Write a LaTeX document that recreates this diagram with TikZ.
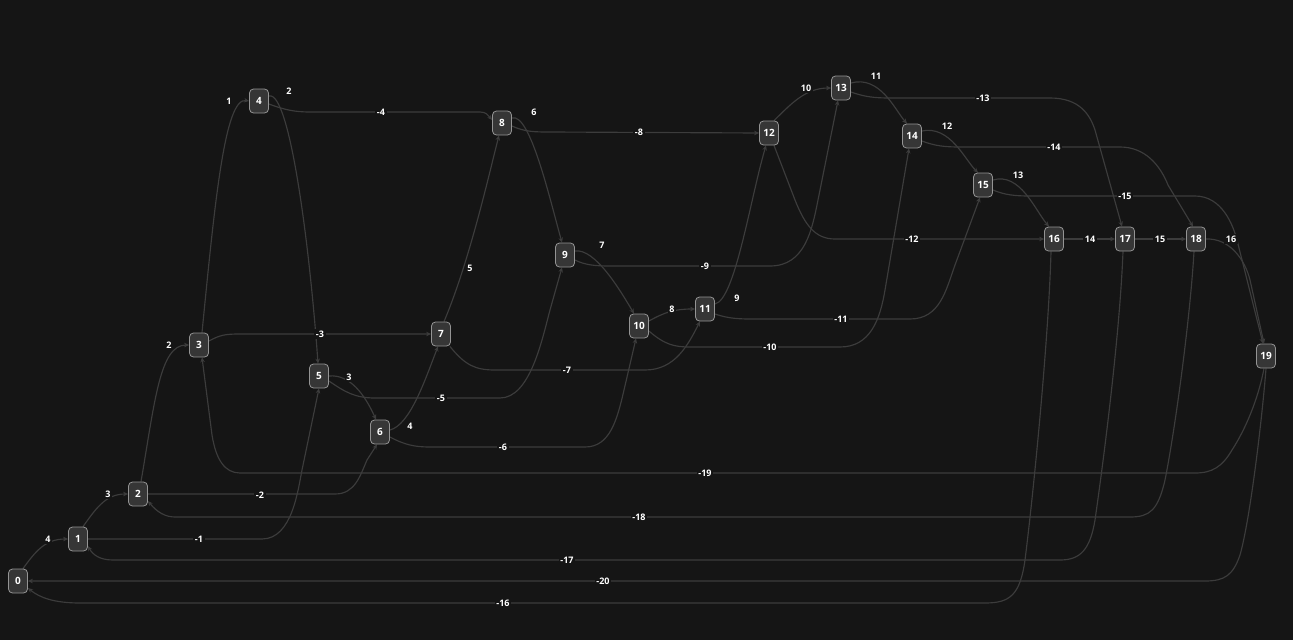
\documentclass[tikz,border=0pt]{standalone}
\usepackage{fontspec}
\setmainfont{Open Sans}
\usetikzlibrary{arrows.meta}
\definecolor{bg}{HTML}{151515}
\definecolor{nodefill}{HTML}{363636}
\definecolor{nodeborder}{HTML}{949494}
\definecolor{edgecol}{HTML}{3C3C3C}
\pgfdeclarelayer{edgelayer}
\pgfsetlayers{edgelayer,main}
\begin{document}
\begin{tikzpicture}[x=1pt,y=-1pt,
  vert/.style={draw=nodeborder, fill=nodefill, rounded corners=4pt, minimum width=19pt, minimum height=24pt, inner sep=2pt, text=white, font=\bfseries\fontsize{10}{10}\selectfont, line width=0.8pt},
  edge/.style={draw=edgecol, line width=1.15pt, -{Stealth[length=5pt,width=4.5pt]}},
  elab/.style={fill=bg, text=white, font=\bfseries\fontsize{9}{9}\selectfont, inner sep=1.5pt}]
\begin{pgfonlayer}{edgelayer}
\fill[bg] (0,0) rectangle (1293,640);
\end{pgfonlayer}
\useasboundingbox (0,0) rectangle (1293,640);

\node[vert] (n0) at (18,581) {0};
\node[vert] (n1) at (78,539) {1};
\node[vert] (n2) at (138,494) {2};
\node[vert] (n3) at (199,345) {3};
\node[vert] (n4) at (259,101) {4};
\node[vert] (n5) at (319,376) {5};
\node[vert] (n6) at (380,432) {6};
\node[vert] (n7) at (441,334) {7};
\node[vert] (n8) at (502,123) {8};
\node[vert] (n9) at (565,255) {9};
\node[vert] (n10) at (639,326) {10};
\node[vert] (n11) at (705,309) {11};
\node[vert] (n12) at (769,133) {12};
\node[vert] (n13) at (841,88) {13};
\node[vert] (n14) at (912,136) {14};
\node[vert] (n15) at (983,185) {15};
\node[vert] (n16) at (1054,239) {16};
\node[vert] (n17) at (1125,239) {17};
\node[vert] (n18) at (1196,239) {18};
\node[vert] (n19) at (1266,356) {19};

\begin{pgfonlayer}{edgelayer}
% forward edges
\draw[edge] ([xshift=5pt]n0.north) .. controls (35,552) and (45,539) .. (n1.west);
\draw[edge] ([xshift=5pt]n1.north) .. controls (95,510) and (105,494) .. (n2.west);
\draw[edge] ([xshift=3pt]n2.north) .. controls (155,400) and (160,345) .. (n3.west);
\draw[edge] ([xshift=3pt]n3.north) .. controls (215,200) and (225,97) .. (n4.west);
\draw[edge] ([yshift=5pt]n4.east) .. controls (290,90) and (310,250) .. ([xshift=-1pt]n5.north);
\draw[edge] (n5.east) .. controls (350,374) and (365,395) .. ([xshift=-4pt]n6.north);
\draw[edge] ([yshift=2pt]n6.east) .. controls (410,425) and (425,380) .. ([xshift=-3pt]n7.south);
\draw[edge] ([xshift=3pt]n7.north) .. controls (470,260) and (490,170) .. ([xshift=-3pt]n8.south);
\draw[edge] ([yshift=5pt]n8.east) .. controls (530,112) and (550,200) .. ([xshift=-3pt]n9.north);
\draw[edge] ([yshift=4pt]n9.east) .. controls (595,248) and (620,290) .. ([xshift=-5pt]n10.north);
\draw[edge] ([yshift=5pt]n10.east) .. controls (665,312) and (675,309) .. (n11.west);
\draw[edge] ([yshift=5pt]n11.east) .. controls (735,300) and (750,200) .. ([xshift=-3pt]n12.south);
\draw[edge] ([xshift=5pt]n12.north) .. controls (790,105) and (805,88) .. (n13.west);
\draw[edge] ([yshift=5pt]n13.east) .. controls (880,75) and (895,110) .. ([xshift=-5pt]n14.north);
\draw[edge] ([yshift=5pt]n14.east) .. controls (950,125) and (965,160) .. ([xshift=-5pt]n15.north);
\draw[edge] ([yshift=5pt]n15.east) .. controls (1020,172) and (1035,210) .. ([xshift=-5pt]n16.north);
\draw[edge] (n16.east) -- (n17.west);
\draw[edge] (n17.east) -- (n18.west);
\draw[edge] (n18.east) .. controls (1230,238) and (1245,260) .. (1250,280) -- ([xshift=-2pt]n19.north);

% backward edges
\draw[edge] (n1.east) -- (262,539) .. controls (292,539) and (298,490) .. (302,470) -- (n5.south);
\draw[edge] (n2.east) -- (335,494) .. controls (355,494) and (360,476) .. (367,460) -- ([xshift=-3pt]n6.south);
\draw[edge] ([yshift=4pt]n3.east) .. controls (220,335) and (225,334) .. (240,334) -- (n7.west);
\draw[edge] ([yshift=-3pt]n4.east) .. controls (285,110) and (295,112) .. (310,112) -- (480,112) .. controls (486,112) and (488,115) .. ([yshift=3pt]n8.west);
\draw[edge] ([yshift=-5pt]n5.east) .. controls (345,392) and (355,398) .. (375,398) -- (500,398) .. controls (530,398) and (542,340) .. (550,310) -- ([xshift=-3pt]n9.south);
\draw[edge] ([yshift=-5pt]n6.east) .. controls (405,445) and (415,447) .. (430,447) -- (585,447) .. controls (610,447) and (617,420) .. (624,390) -- ([xshift=-3pt]n10.south);
\draw[edge] ([xshift=-1pt]n7.south east) .. controls (465,365) and (475,370) .. (495,370) -- (645,370) .. controls (675,370) and (688,345) .. ([xshift=-5pt]n11.south);
\draw[edge] ([yshift=-3pt]n8.east) .. controls (525,132) and (535,132) .. (550,132) -- (n12.west);
\draw[edge] ([yshift=-5pt]n9.east) .. controls (585,265) and (595,266) .. (610,266) -- (770,266) .. controls (805,266) and (812,230) .. (818,200) -- ([xshift=-3pt]n13.south);
\draw[edge] ([yshift=-5pt]n10.east) .. controls (665,345) and (675,347) .. (690,347) -- (840,347) .. controls (870,347) and (880,320) .. (885,290) -- ([xshift=-3pt]n14.south);
\draw[edge] ([yshift=-5pt]n11.east) .. controls (730,319) and (740,319) .. (755,319) -- (910,319) .. controls (940,319) and (946,290) .. (955,265) -- ([xshift=-3pt]n15.south);
\draw[edge] ([xshift=5pt]n12.south) -- (795,200) .. controls (805,225) and (815,239) .. (835,239) -- (n16.west);
\draw[edge] ([yshift=-4pt]n13.east) .. controls (865,97) and (875,98) .. (890,98) -- (1050,98) .. controls (1080,98) and (1090,115) .. (1095,130) -- ([xshift=-3pt]n17.north);
\draw[edge] ([yshift=-5pt]n14.east) .. controls (935,146) and (945,147) .. (960,147) -- (1120,147) .. controls (1145,147) and (1160,165) .. (1168,185) -- ([xshift=-3pt]n18.north);
\draw[edge] ([yshift=-5pt]n15.east) .. controls (1005,195) and (1015,196) .. (1030,196) -- (1195,196) .. controls (1222,196) and (1233,225) .. (1237,240) -- ([xshift=-3pt]n19.north);
\draw[edge] ([xshift=-3pt]n16.south) .. controls (1049,330) and (1035,480) .. (1025,560) .. controls (1020,595) and (1010,603) .. (985,603) -- (80,603) .. controls (55,603) and (40,598) .. ([yshift=-7pt]n0.east);
\draw[edge] ([xshift=-2pt]n17.south) .. controls (1120,330) and (1105,450) .. (1095,520) .. controls (1090,550) and (1080,560) .. (1060,560) -- (113,560) .. controls (100,560) and (93,555) .. ([yshift=-7pt]n1.east);
\draw[edge] ([xshift=-2pt]n18.south) .. controls (1190,320) and (1175,430) .. (1165,480) .. controls (1158,510) and (1150,517) .. (1130,517) -- (175,517) .. controls (165,517) and (157,512) .. ([yshift=-7pt]n2.east);
\draw[edge] ([xshift=-2pt]n19.south) .. controls (1258,400) and (1245,430) .. (1232,450) .. controls (1222,467) and (1212,473) .. (1195,473) -- (240,473) .. controls (225,473) and (216,460) .. (212,435) -- ([xshift=3pt]n3.south);
\draw[edge] (n19.south) .. controls (1262,420) and (1250,520) .. (1240,555) .. controls (1233,575) and (1225,581) .. (1205,581) -- (n0.east);
\end{pgfonlayer}

% labels
\node[elab] (l1) at (48,539) {4};
\node[elab] (l2) at (108,494) {3};
\node[elab] (l3) at (169,345) {2};
\node[elab] (l4) at (229,101) {1};
\node[elab] (l5) at (289,91) {2};
\node[elab] (l6) at (349,377) {3};
\node[elab] (l7) at (410,426) {4};
\node[elab] (l8) at (470,268) {5};
\node[elab] (l9) at (534,112) {6};
\node[elab] (l10) at (602,245) {7};
\node[elab] (l11) at (672,309) {8};
\node[elab] (l12) at (737,298) {9};
\node[elab] (l13) at (806,88) {10};
\node[elab] (l14) at (876,76) {11};
\node[elab] (l15) at (947,126) {12};
\node[elab] (l16) at (1018,175) {13};
\node[elab] (l17) at (1090,239) {14};
\node[elab] (l18) at (1160,239) {15};
\node[elab] (l19) at (1231,239) {16};
\node[elab] (m1) at (199,539) {-1};
\node[elab] (m2) at (260,495) {-2};
\node[elab] (m3) at (320,334) {-3};
\node[elab] (m4) at (381,112) {-4};
\node[elab] (m5) at (441,398) {-5};
\node[elab] (m6) at (503,447) {-6};
\node[elab] (m7) at (567,370) {-7};
\node[elab] (m8) at (639,132) {-8};
\node[elab] (m9) at (705,266) {-9};
\node[elab] (m10) at (770,347) {-10};
\node[elab] (m11) at (841,319) {-11};
\node[elab] (m12) at (912,239) {-12};
\node[elab] (m13) at (983,98) {-13};
\node[elab] (m14) at (1054,147) {-14};
\node[elab] (m15) at (1125,196) {-15};
\node[elab] (m16) at (503,603) {-16};
\node[elab] (m17) at (567,560) {-17};
\node[elab] (m18) at (639,517) {-18};
\node[elab] (m19) at (705,473) {-19};
\node[elab] (m20) at (603,581) {-20};
\end{tikzpicture}
\end{document}
